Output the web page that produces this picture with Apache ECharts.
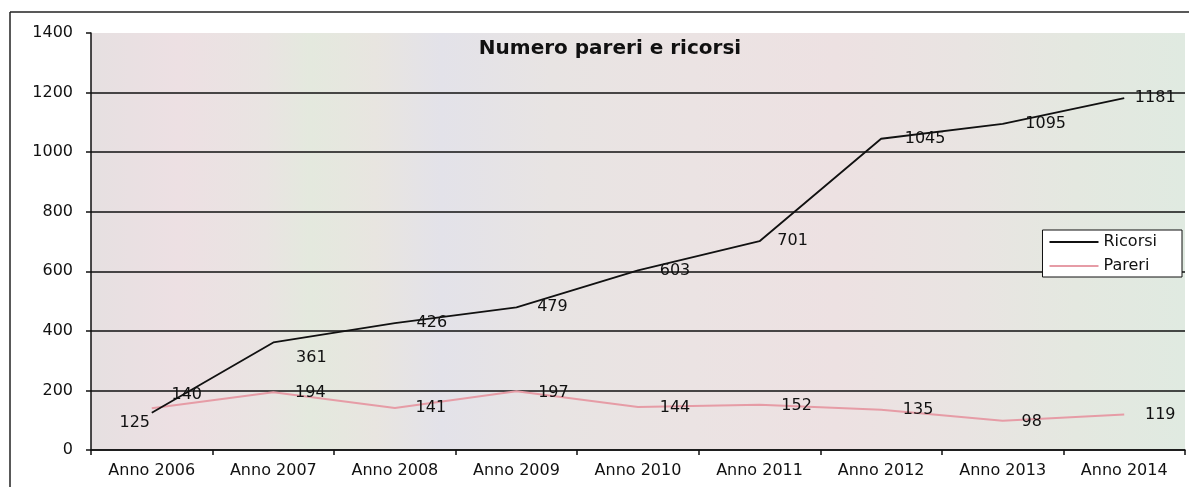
<!DOCTYPE html>
<html>
<head>
<meta charset="utf-8">
<script src="https://cdn.jsdelivr.net/npm/echarts@6/dist/echarts.min.js"></script>
<style>
  html, body { margin: 0; padding: 0; background: #ffffff; }
  #chart { width: 1189px; height: 487px; }
</style>
</head>
<body>
<div id="chart"></div>
<script>
// Anni e valori delle due serie
const categories = ['Anno 2006', 'Anno 2007', 'Anno 2008', 'Anno 2009', 'Anno 2010',
                    'Anno 2011', 'Anno 2012', 'Anno 2013', 'Anno 2014'];
const ricorsi = [125, 361, 426, 479, 603, 701, 1045, 1095, 1181];
const pareri  = [140, 194, 141, 197, 144, 152, 135, 98, 119];

// Scala dell'asse verticale
const yMin = 0;
const yMax = 1400;
const yStep = 200;

// Spostamento delle etichette rispetto al punto (px)
const ricorsiLabelShift = [[-17, 10], [38, 15], [37, 0], [36, 0], [37, 0], [33, 0], [44, 0], [43, 0], [31, 0]];
const pareriLabelShift  = [[35, -13], [37, 1], [36, 0], [37, 2], [37, 1], [37, 1], [37, 0], [29, 1], [36, 0]];

const FONT = 'DejaVu Sans';
const INK = '#111111';
const PINK = '#e69ca6';

function withLabels(values, shifts) {
  return values.map((v, i) => ({
    value: v,
    label: { offset: shifts[i] }
  }));
}

const labelStyle = {
  show: true,
  position: 'inside',
  color: INK,
  fontFamily: FONT,
  fontSize: 16
};

// Fondo dell'area del grafico: grigio chiaro con leggere sfumature
const plotFill = new echarts.graphic.LinearGradient(0, 0, 1, 0, [
  { offset: 0.00, color: '#e6e0e1' },
  { offset: 0.08, color: '#ede0e3' },
  { offset: 0.16, color: '#e9e4e2' },
  { offset: 0.20, color: '#e4e9de' },
  { offset: 0.26, color: '#e8e5e0' },
  { offset: 0.32, color: '#e3e2e9' },
  { offset: 0.42, color: '#e8e4e3' },
  { offset: 0.55, color: '#ebe3e3' },
  { offset: 0.68, color: '#ede1e2' },
  { offset: 0.80, color: '#e9e4e2' },
  { offset: 0.90, color: '#e4e8e0' },
  { offset: 1.00, color: '#e0eae1' }
]);

const chart = echarts.init(document.getElementById('chart'), null, { renderer: 'canvas' });

const splitColors = [];
for (let v = yMin; v <= yMax; v += yStep) {
  splitColors.push(v === yMax ? 'rgba(0,0,0,0)' : INK);
}

chart.setOption({
  animation: false,
  backgroundColor: '#ffffff',
  textStyle: { fontFamily: FONT },
  title: {
    text: 'Numero pareri e ricorsi',
    left: 605,
    top: 34,
    textAlign: 'center',
    textStyle: { fontFamily: FONT, fontSize: 20, fontWeight: 'bold', color: INK }
  },
  legend: {
    orient: 'vertical',
    right: 7,
    top: 230,
    icon: 'rect',
    itemWidth: 49,
    itemHeight: 2,
    itemGap: 8,
    padding: [4, 25, 3, 7],
    backgroundColor: '#ffffff',
    borderColor: INK,
    borderWidth: 1,
    textStyle: { fontFamily: FONT, fontSize: 16, color: INK },
    data: ['Ricorsi', 'Pareri']
  },
  grid: {
    left: 91,
    right: 4,
    top: 33,
    bottom: 37,
    show: true,
    backgroundColor: plotFill,
    borderWidth: 0,
    containLabel: false
  },
  xAxis: {
    type: 'category',
    data: categories,
    boundaryGap: true,
    axisLine: { show: true, lineStyle: { color: INK, width: 1.5 } },
    axisTick: { show: true, alignWithLabel: false, length: 5, lineStyle: { color: INK, width: 1.5 } },
    axisLabel: { color: INK, fontFamily: FONT, fontSize: 16, margin: 13 },
    splitLine: { show: false }
  },
  yAxis: {
    type: 'value',
    min: yMin,
    max: yMax,
    interval: yStep,
    axisLine: { show: true, lineStyle: { color: INK, width: 1.5 } },
    axisTick: { show: true, length: 5, lineStyle: { color: INK, width: 1.5 } },
    axisLabel: {
      color: INK, fontFamily: FONT, fontSize: 16, margin: 18,
      formatter: (v) => String(v)
    },
    splitLine: { show: true, lineStyle: { color: splitColors, width: 1.5 } }
  },
  series: [
    {
      name: 'Ricorsi',
      type: 'line',
      data: withLabels(ricorsi, ricorsiLabelShift),
      symbol: 'circle',
      symbolSize: 0,
      showSymbol: true,
      color: INK,
      lineStyle: { color: INK, width: 1.8 },
      label: labelStyle,
      z: 3
    },
    {
      name: 'Pareri',
      type: 'line',
      data: withLabels(pareri, pareriLabelShift),
      symbol: 'circle',
      symbolSize: 0,
      showSymbol: true,
      color: PINK,
      lineStyle: { color: PINK, width: 2 },
      label: labelStyle,
      z: 2
    }
  ],
  graphic: [
    {
      type: 'line',
      shape: { x1: 10, y1: 12, x2: 1189, y2: 12 },
      style: { stroke: '#222222', lineWidth: 1.5 },
      silent: true
    },
    {
      type: 'line',
      shape: { x1: 10, y1: 12, x2: 10, y2: 487 },
      style: { stroke: '#222222', lineWidth: 1.5 },
      silent: true
    }
  ]
});
</script>
</body>
</html>
